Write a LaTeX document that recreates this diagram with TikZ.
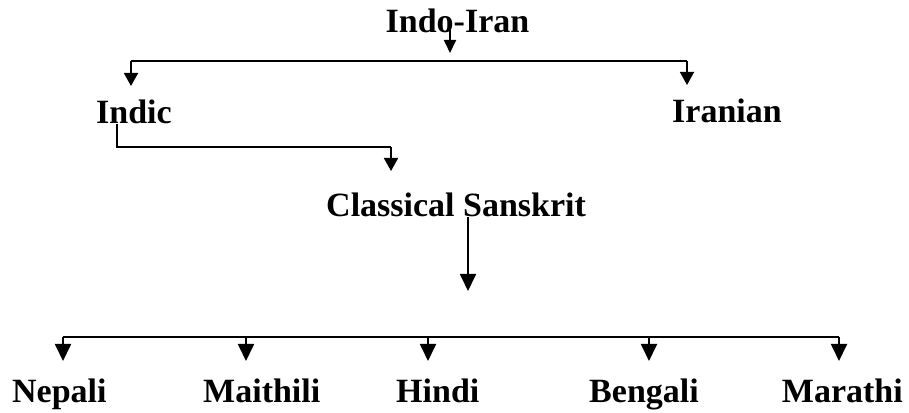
\documentclass[tikz,border=0pt]{standalone}
\usepackage{fontspec}
\setmainfont{Liberation Serif}
\usetikzlibrary{arrows.meta}

\begin{document}
\begin{tikzpicture}[
x=1pt,y=1pt,
lang/.style={inner sep=0pt,font=\fontsize{34}{40}\selectfont\bfseries},
arrow/.style={-{Triangle[length=13pt,width=14pt]},line width=1.8pt},
bigarrow/.style={-{Triangle[length=17pt,width=16pt]},line width=1.8pt},
link/.style={line width=1.8pt}
]
\useasboundingbox (0,0) rectangle (909,412);
% language names
\node[lang,anchor=base] (indoiran) at (457.5,379) {Indo-Iran};
\node[lang,anchor=base west] (indic) at (96,288) {Indic};
\node[lang,anchor=base west] (iranian) at (672,289) {Iranian};
\node[lang,anchor=base west] (sanskrit) at (326,195) {Classical Sanskrit};
\node[lang,anchor=base west] (nepali) at (12,10) {Nepali};
\node[lang,anchor=base west] (maithili) at (203,10) {Maithili};
\node[lang,anchor=base west] (hindi) at (396,10) {Hindi};
\node[lang,anchor=base east] (bengali) at (699,10) {Bengali};
\node[lang,anchor=base east] (marathi) at (903,10) {Marathi};
% junctions
\coordinate (iitip) at (450,359);
\coordinate (topl) at (131,351);
\coordinate (topr) at (687,351);
\coordinate (indicl) at (117,265);
\coordinate (indicr) at (391,265);
\coordinate (sktip) at (468,121);
\coordinate (botl) at (63,75);
\coordinate (botr) at (839,75);
% Indo-Iran branch
\draw[arrow,-{Triangle[length=13pt,width=12pt]}] ([xshift=-7.5pt,yshift=3pt]indoiran.base) -- (iitip);
\draw[link] (topl) -- (topr);
\draw[arrow] (topl) -- ++(0,-25);
\draw[arrow] (topr) -- ++(0,-24);
% Indic to Classical Sanskrit
\draw[link] (indicl |- indic.base) -- (indicl) -- (indicr);
\draw[arrow] (indicr) -- ++(0,-24);
\draw[bigarrow] (sanskrit.base -| sktip) -- (sktip);
% modern languages
\draw[link] (botl) -- (botr);
\foreach \x in {63,246,428,649,839}
  \draw[bigarrow] (\x,75) -- ++(0,-24);
\end{tikzpicture}
\end{document}
